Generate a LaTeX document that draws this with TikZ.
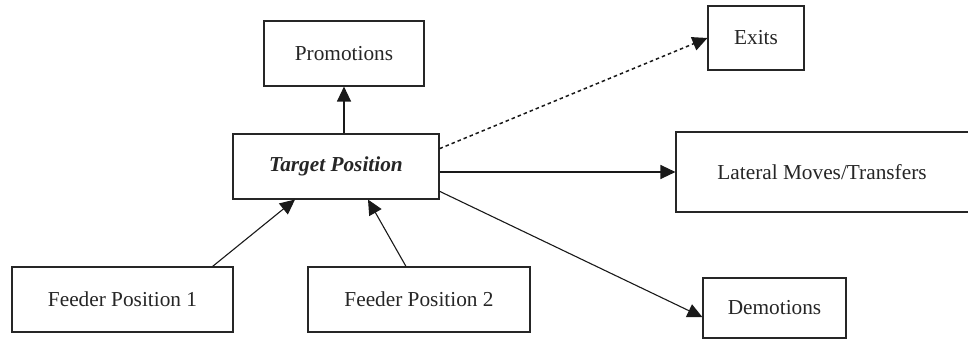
\documentclass[tikz,border=0pt]{standalone}
\usepackage{fontspec}
\setmainfont{Liberation Serif}
\usetikzlibrary{arrows.meta,calc}

\begin{document}
\begin{tikzpicture}[x=1pt,y=-1pt,
  box/.style={draw=black!85,line width=1.1pt,fill=white,inner sep=0pt,
    font=\fontsize{21.3}{25}\selectfont,text=black!85},
  link/.style={draw=black!90,line width=1.1pt,
    -{Triangle[length=15pt,width=14pt]}},
  dotlink/.style={link,line width=1.5pt,dash pattern=on 3.5pt off 3pt}]
  \useasboundingbox (0,0) rectangle (968,339);

  % positions
  \node[box,minimum width=160pt,minimum height=65pt] (promo) at (344,53.5) {Promotions};
  \node[box,minimum width=206pt,minimum height=65pt] (target) at (336,166.5)
    {\bfseries\itshape Target Position};
  \node[box,minimum width=96pt,minimum height=64pt] (exits) at (756,38) {Exits};
  \node[box,minimum width=299pt,minimum height=80pt] (lateral) at (825.5,172) {};
  \node[font=\fontsize{21.3}{25}\selectfont,text=black!85] (latlabel) at (822,172)
    {Lateral Moves/Transfers};
  \node[box,minimum width=143pt,minimum height=60pt] (demo) at (774.5,308) {Demotions};
  \node[box,minimum width=221pt,minimum height=65pt] (feed1) at (122.5,299.5) {Feeder Position 1};
  \node[box,minimum width=222pt,minimum height=65pt] (feed2) at (419,299.5) {Feeder Position 2};

  % moves out of the target position
  \draw[link] (target.north -| promo.south) -- (promo.south);
  \draw[dotlink] ($(target.north east)!0.23!(target.south east)$) -- (exits.west);
  \draw[link] (target.east |- lateral.west) -- (lateral.west);
  \draw[link] ($(target.north east)!0.875!(target.south east)$)
    -- ($(demo.north west)!0.65!(demo.south west)$);

  % moves into the target position
  \draw[link] ([xshift=-21pt]feed1.north east) -- ([xshift=-41pt]target.south);
  \draw[link] ([xshift=-13pt]feed2.north) -- ([xshift=32pt]target.south);
\end{tikzpicture}
\end{document}
